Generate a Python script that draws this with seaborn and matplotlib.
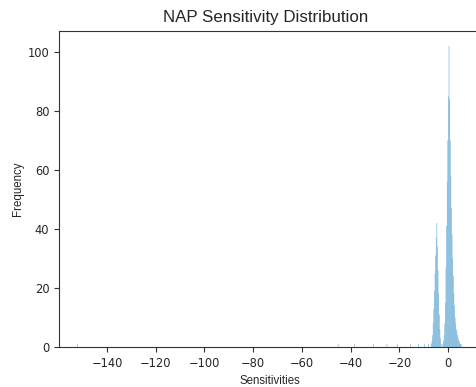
import matplotlib
matplotlib.use("Agg")
import matplotlib.pyplot as plt
import seaborn as sns
import pandas as pd

# Histogram bin centres (width 0.25) and the counts
left_peak_centers = [-6.875, -6.625, -6.375, -6.125, -5.875, -5.625, -5.375, -5.125,
                     -4.875, -4.625, -4.375, -4.125, -3.875, -3.625, -3.375, -3.125,
                     -2.875]
left_peak_counts = [1, 2, 4, 8, 13, 19, 25, 31, 37, 42, 34, 26, 18, 11, 6, 3, 1]

right_peak_centers = [-2.125, -1.875, -1.625, -1.375, -1.125, -0.875, -0.625, -0.375,
                      -0.125, 0.125, 0.375, 0.625, 0.875, 1.125, 1.375, 1.625,
                      1.875, 2.125, 2.375, 2.625, 2.875, 3.125, 3.375, 3.625,
                      3.875, 4.125, 4.375, 4.625, 4.875, 5.125, 5.375]
right_peak_counts = [1, 2, 4, 8, 15, 27, 41, 56, 70, 85, 102, 84, 70, 58, 47, 38,
                     30, 24, 18, 14, 10, 8, 6, 5, 4, 3, 2, 2, 1, 1, 1]

# a few scattered outliers
outlier_centers = [-152.125, -45.125, -38.375, -30.625, -25.125, -20.875,
                   -15.375, -12.125, -9.625, -8.125]
outlier_counts = [1, 1, 1, 1, 1, 1, 1, 1, 1, 1]

df = pd.DataFrame({
    "Sensitivities": left_peak_centers + right_peak_centers + outlier_centers,
    "count": left_peak_counts + right_peak_counts + outlier_counts,
})

sns.set_style("ticks")
fig = plt.figure(figsize=(4.76, 3.87), dpi=100)
ax = fig.add_axes([0.124, 0.1034, 0.886, 0.8165])

sns.histplot(data=df, x="Sensitivities", weights="count", binwidth=0.25,
             binrange=(-152.25, 5.5), color="#6baed6", alpha=1,
             linewidth=0, ax=ax)
# bars are narrower than a pixel, so don't let them snap away
for p in ax.patches:
    p.set_snap(False)

ax.set_xlim(-159.7, 13.4)
ax.set_ylim(0, 107.1)
ax.set_xticks(range(-140, 1, 20))
ax.set_yticks(range(0, 101, 20))
ax.tick_params(labelsize=8.3, length=3.5, width=0.8, color="#333333")
for s in ax.spines.values():
    s.set_color("#333333")
    s.set_linewidth(0.8)

lab_font = {"family": ["Liberation Sans", "DejaVu Sans"], "size": 8.3}
ax.set_xlabel("Sensitivities", fontdict=lab_font, labelpad=3.5)
ax.set_ylabel("Frequency", fontdict=lab_font, labelpad=2.5)
fig.text(0.557, 0.955, "NAP Sensitivity Distribution", ha="center", va="center",
         family=["Liberation Sans", "DejaVu Sans"], fontsize=12.2)

fig.savefig("out.png", dpi=100)
